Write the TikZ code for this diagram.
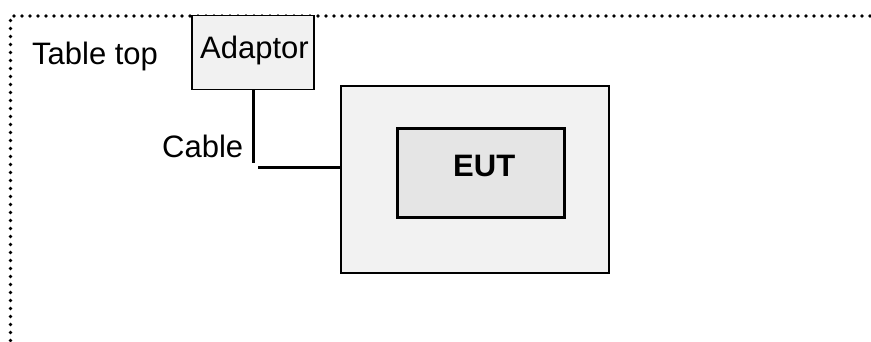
\documentclass[tikz,border=0pt]{standalone}
\usepackage{fontspec}
\setmainfont{Liberation Sans}
\begin{document}
\begin{tikzpicture}[x=1pt,y=-1pt,
  box/.style={draw=black, rectangle, inner sep=0pt},
  txt/.style={inner sep=0pt, anchor=base west, font=\fontsize{31}{37}\selectfont},
  dotline/.style={line width=3.6pt, line cap=round, dash pattern=on 0pt off 8pt}]
\useasboundingbox (0,0) rectangle (871,341);
% table top boundary
\coordinate (tl) at (10.5,16);
\coordinate (tr) at (870,16);
\coordinate (bl) at (10.5,345);
\draw[dotline] (tr) -- (tl) -- (bl);
\node[txt] (tabletop) at (32,64) {Table top};
% adaptor
\node[box, line width=1.8pt, fill={rgb,255:red,241;green,241;blue,241}, minimum width=122pt, minimum height=74pt] (adaptor) at (253,52.5) {};
\node[txt] (adaptortxt) at (200,58) {Adaptor};
% outer box and EUT
\node[box, line width=1.5pt, fill={rgb,255:red,242;green,242;blue,242}, minimum width=268pt, minimum height=187pt] (outer) at (475,179.5) {};
\node[box, line width=3pt, fill={rgb,255:red,229;green,229;blue,229}, minimum width=167pt, minimum height=89pt] (eut) at (480.5,172.5) {};
\node[txt, font=\fontsize{31}{37}\selectfont\bfseries] (euttxt) at (453,176) {EUT};
% cable
\coordinate (c1) at (adaptor.south |- 0,163);
\coordinate (c2) at (258,167);
\draw[line width=3pt] (adaptor.south) -- (c1);
\draw[line width=3pt] (c2) -- (c2 -| outer.west);
\node[txt] (cable) at (162,157) {Cable};
\end{tikzpicture}
\end{document}
